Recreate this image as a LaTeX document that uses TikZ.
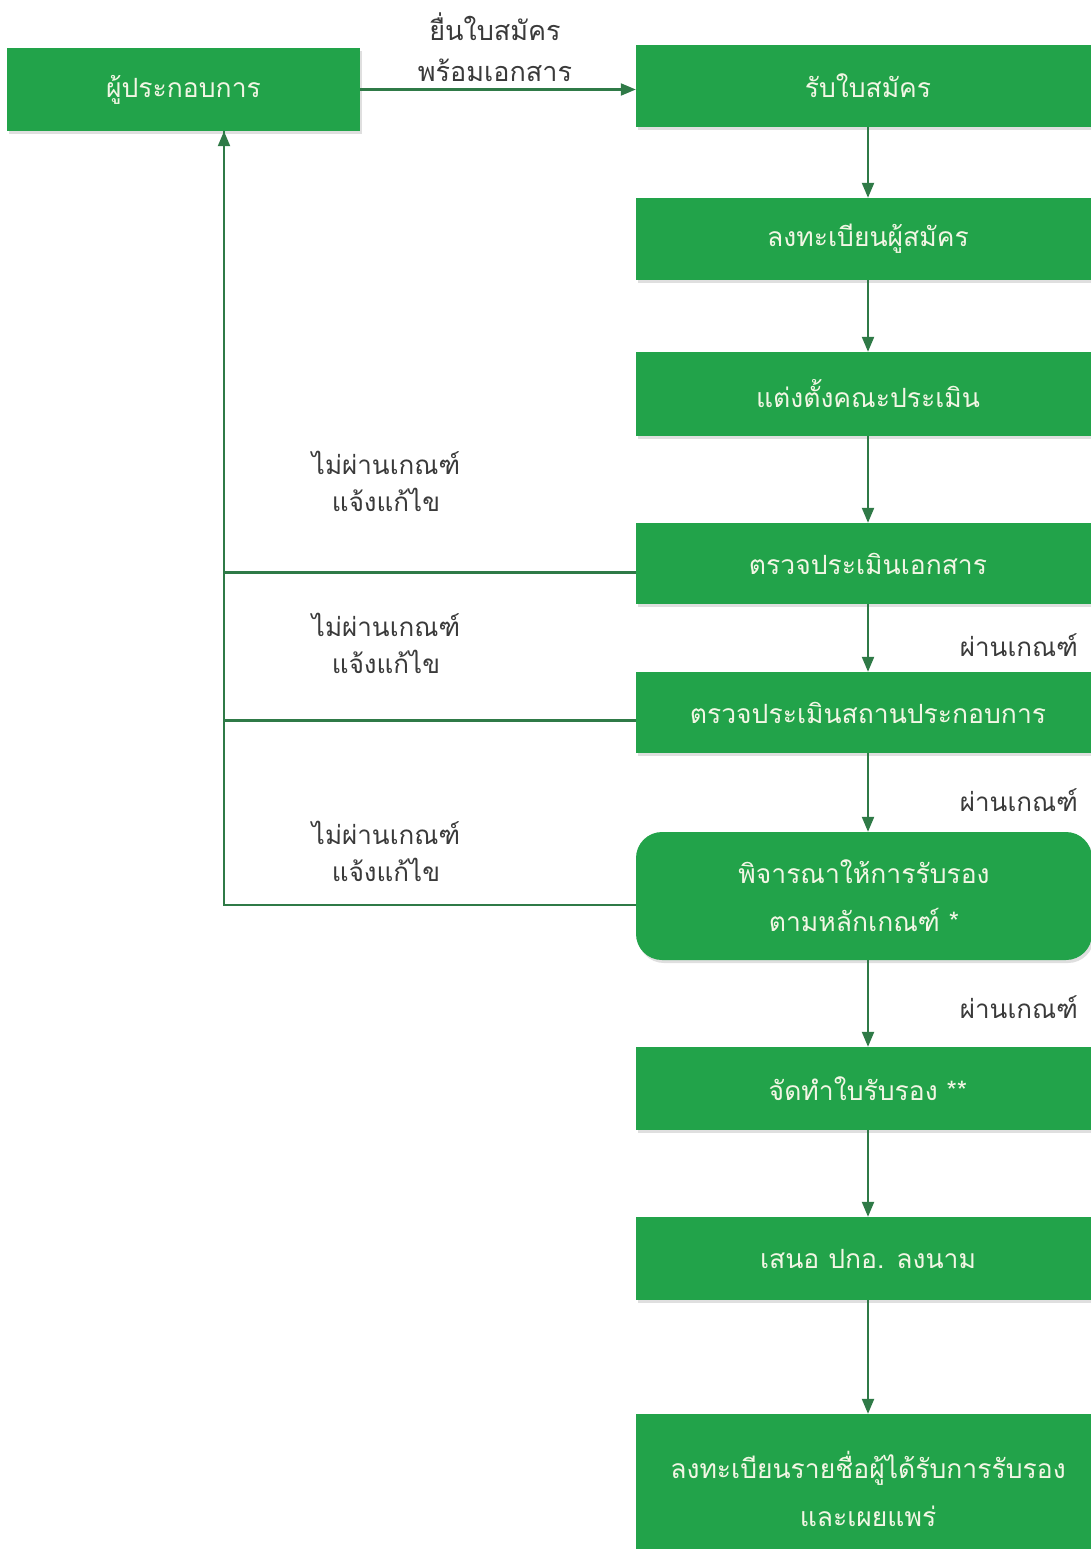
\documentclass[tikz,border=0pt]{standalone}
\usepackage{fontspec}
\newfontfamily\thai[Script=Thai]{Loma}
\usetikzlibrary{arrows.meta,shadows}
\definecolor{boxgreen}{HTML}{22A34A}
\definecolor{linegreen}{HTML}{2F7A47}
\definecolor{boxtext}{HTML}{F2F6E4}
\definecolor{labeltext}{HTML}{3A3A3A}
\tikzset{
  box/.style={rectangle, fill=boxgreen, text=boxtext, inner sep=0pt,
    font=\thai\fontsize{26.5}{48}\selectfont, align=center,
    drop shadow={opacity=0.25, shadow xshift=2pt, shadow yshift=-3pt}},
  conn/.style={draw=linegreen, line width=2.2pt},
  arr/.style={conn, -{Triangle[length=15pt,width=12pt]}},
  lbl/.style={text=labeltext, font=\thai\fontsize{26}{37}\selectfont, align=center, inner sep=0pt},
}
\begin{document}
\begin{tikzpicture}[x=1pt,y=1pt]
\useasboundingbox (0,0) rectangle (1091,-1549);
\node[box, minimum width=353pt, minimum height=83pt] (A) at (183.5,-89.5) {ผู้ประกอบการ};
\node[box, minimum width=464pt, minimum height=82pt] (B1) at (868,-86) {รับใบสมัคร};
\node[box, minimum width=464pt, minimum height=82pt] (B2) at (868,-239) {ลงทะเบียนผู้สมัคร};
\node[box, minimum width=464pt, minimum height=84pt] (B3) at (868,-394) {แต่งตั้งคณะประเมิน};
\node[box, minimum width=464pt, minimum height=81pt] (B4) at (868,-563.5) {ตรวจประเมินเอกสาร};
\node[box, minimum width=464pt, minimum height=81pt] (B5) at (868,-712.5) {ตรวจประเมินสถานประกอบการ};
\node[box, minimum width=456pt, minimum height=128pt, rounded corners=26pt] (B6) at (864,-896) {พิจารณาให้การรับรอง\\ตามหลักเกณฑ์ *};
\node[box, minimum width=464pt, minimum height=83pt] (B7) at (868,-1088.5) {จัดทำใบรับรอง **};
\node[box, minimum width=464pt, minimum height=83pt] (B8) at (868,-1258.5) {เสนอ ปกอ. ลงนาม};
\node[box, minimum width=464pt, minimum height=150pt] (B9) at (868,-1489) {ลงทะเบียนรายชื่อผู้ได้รับการรับรอง\\และเผยแพร่};

\draw[arr] (A.east) -- (A.east -| B1.west);
\node[lbl, font=\thai\fontsize{27}{41}\selectfont] (L0) at (495,-47) {ยื่นใบสมัคร\\พร้อมเอกสาร};

\draw[arr] (B1.south) -- (B2.north);
\draw[arr] (B2.south) -- (B3.north);
\draw[arr] (B3.south) -- (B4.north);
\draw[arr] (B4.south) -- (B5.north);
\draw[arr] (B5.south) -- (B6.north -| B5.south);
\draw[arr] (B6.south -| B5.south) -- (B7.north);
\draw[arr] (B7.south) -- (B8.north);
\draw[arr] (B8.south) -- (B9.north);

\coordinate (up) at ([xshift=40.5pt]A.south);
\draw[conn] ([yshift=-9pt]B4.west) -| (up);
\draw[conn] ([yshift=-8pt]B5.west) -| (up);
\draw[arr] ([yshift=-9pt]B6.west) -| (up);

\node[lbl] (N1) at (386,-481) {ไม่ผ่านเกณฑ์\\แจ้งแก้ไข};
\node[lbl] (N2) at (386,-643) {ไม่ผ่านเกณฑ์\\แจ้งแก้ไข};
\node[lbl] (N3) at (386,-851) {ไม่ผ่านเกณฑ์\\แจ้งแก้ไข};

\node[lbl, anchor=east] (P1) at (1078,-645) {ผ่านเกณฑ์};
\node[lbl, anchor=east] (P2) at (1078,-800) {ผ่านเกณฑ์};
\node[lbl, anchor=east] (P3) at (1078,-1007) {ผ่านเกณฑ์};
\end{tikzpicture}
\end{document}
